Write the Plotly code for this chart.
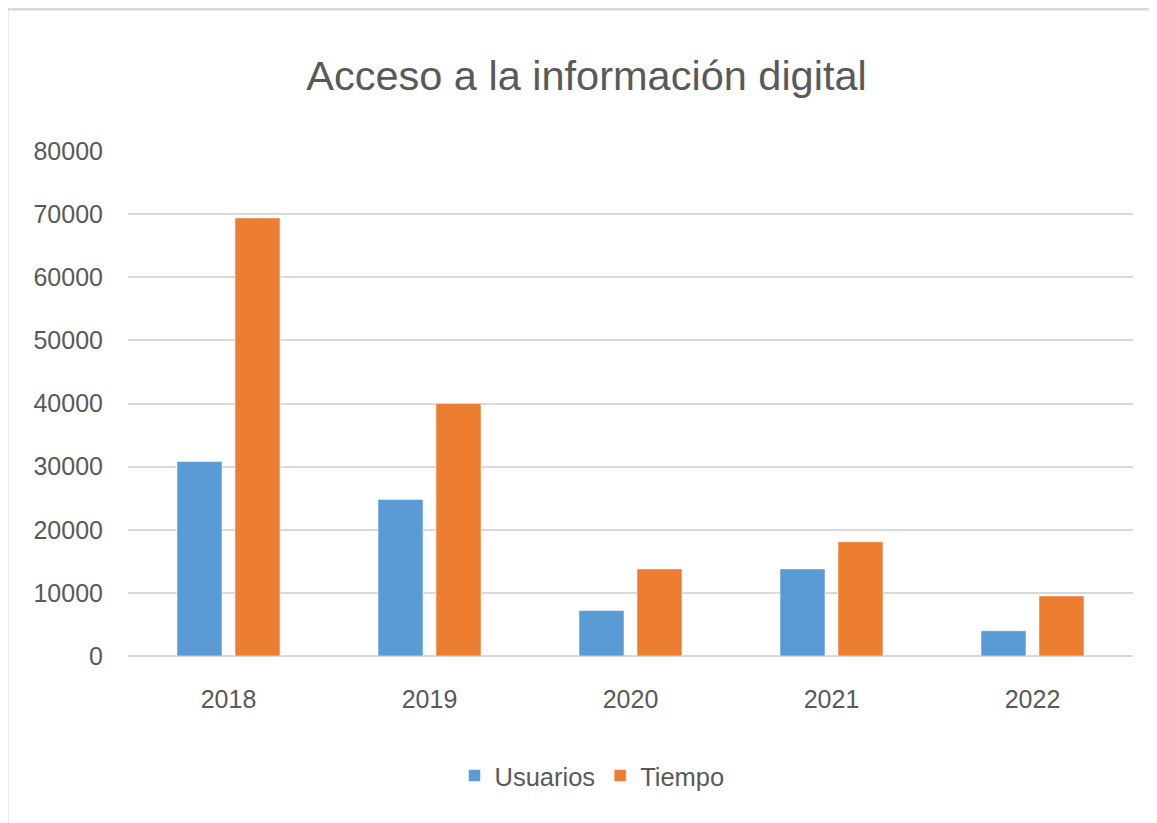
import plotly.graph_objects as go

years = ["2018", "2019", "2020", "2021", "2022"]
usuarios = [30800, 24800, 7200, 13800, 4000]
tiempo = [69400, 40000, 13800, 18100, 9500]
y_ticks = [0, 10000, 20000, 30000, 40000, 50000, 60000, 70000, 80000]

W, H = 1157, 823
OFF = 8  # page body margin offset
# target plot area in screen pixels: x 128..1133, y 151..656
L, T = 128 - OFF, 151 - OFF
R = W + OFF - 1133
B = H + OFF - 656
pw, ph = W - L - R, H - T - B

def px_to_paper_x(px):
    return (px - OFF - L) / pw

def px_to_paper_y(py):
    return (H - B - (py - OFF)) / ph

FONT = "Liberation Sans, Arial, sans-serif"
TXT = "#595959"
GRID = "#d9d9d9"

fig = go.Figure()
fig.add_trace(go.Bar(name="Usuarios", x=years, y=usuarios,
                     marker=dict(color="#5B9BD5", line=dict(color="rgba(255,255,255,0.5)", width=1))))
fig.add_trace(go.Bar(name="Tiempo", x=years, y=tiempo,
                     marker=dict(color="#ED7D31", line=dict(color="rgba(255,255,255,0.5)", width=1))))

fig.update_layout(
    width=W, height=H,
    margin=dict(l=L, r=R, t=T, b=B, autoexpand=False),
    paper_bgcolor="white", plot_bgcolor="white",
    barmode="group", bargap=0.423, bargroupgap=0.224,
    font=dict(family=FONT, color=TXT, size=25),
    title=dict(text="Acceso a la información digital", xref="container", yref="container",
               x=(586.5 - OFF) / W, y=1 - (75 - OFF) / H, xanchor="center", yanchor="middle",
               font=dict(family=FONT, size=41.5, color=TXT)),
    legend=dict(orientation="h", xref="paper", yref="paper",
                x=px_to_paper_x(592), y=px_to_paper_y(776), xanchor="center", yanchor="middle",
                font=dict(size=25.5, color=TXT), itemclick=False, traceorder="normal"),
    xaxis=dict(range=[-0.5, 4.5], showgrid=False, showline=False, zeroline=False,
               ticks="", ticklabelstandoff=26, tickfont=dict(size=25, color=TXT)),
    yaxis=dict(range=[0, 80000], tickvals=y_ticks, ticktext=[str(v) for v in y_ticks],
               showgrid=True, gridcolor=GRID, gridwidth=2, zeroline=True, zerolinecolor=GRID,
               zerolinewidth=2, showline=False, ticks="", ticklabelstandoff=24,
               tickfont=dict(size=25, color=TXT)),
    showlegend=True,
)

# outer chart frame (light gray border like the source)
fig.add_shape(type="line", xref="paper", yref="paper",
              x0=px_to_paper_x(7), x1=px_to_paper_x(7), y0=px_to_paper_y(9), y1=px_to_paper_y(H + 10),
              line=dict(color=GRID, width=3))
fig.add_shape(type="line", xref="paper", yref="paper",
              x0=px_to_paper_x(7), x1=px_to_paper_x(W + 10), y0=px_to_paper_y(9), y1=px_to_paper_y(9),
              line=dict(color=GRID, width=3))

fig.write_html("out.html")
